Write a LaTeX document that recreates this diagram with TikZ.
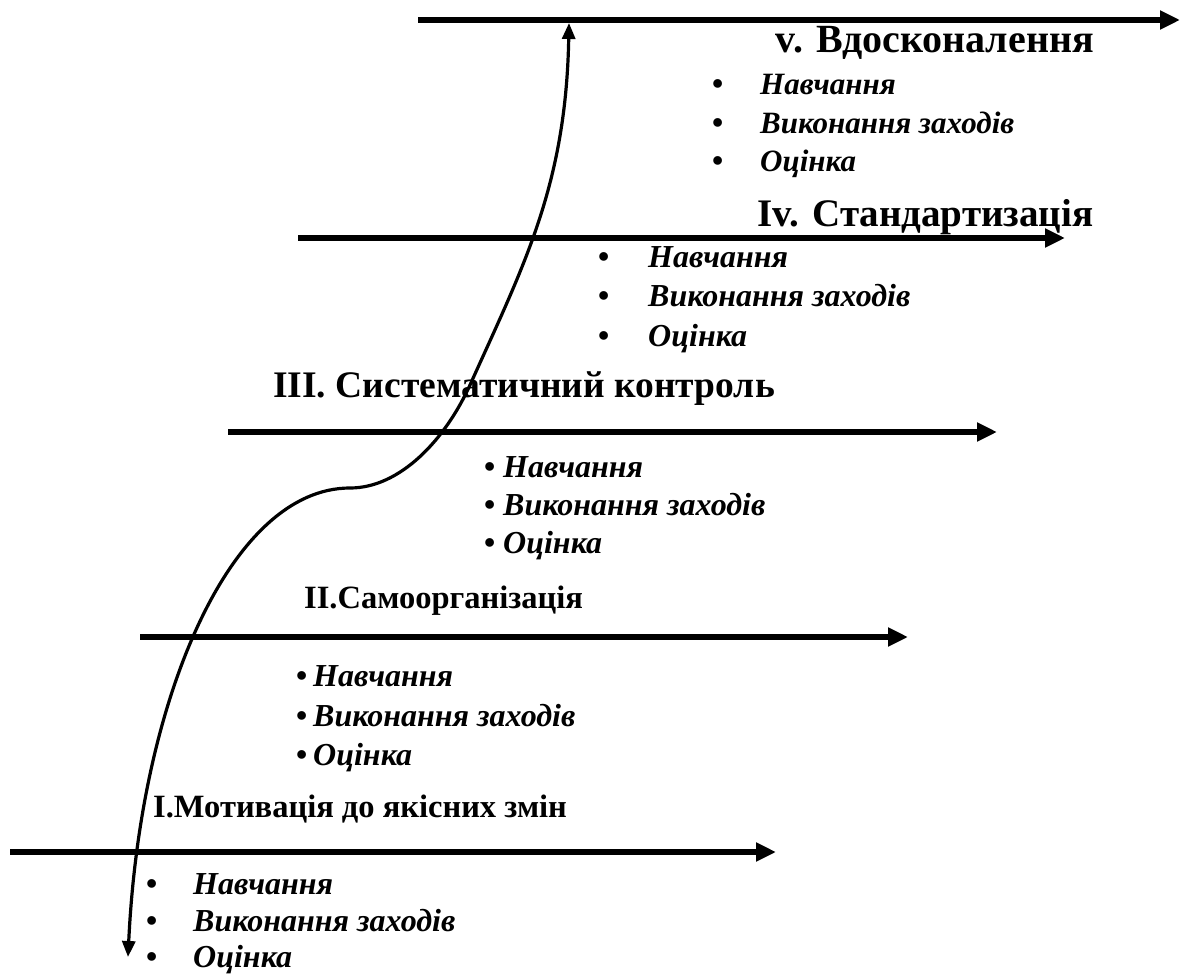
\documentclass[tikz,border=0pt]{standalone}
\usepackage{fontspec}
\setmainfont{Liberation Serif}
\usetikzlibrary{arrows.meta}
\tikzset{
  axisline/.style={line width=5.5pt, -{Triangle[length=20pt,width=18pt]}},
  pathcurve/.style={line width=3.2pt, {Triangle[length=16pt,width=13pt]}-{Triangle[length=16pt,width=13pt]}},
  bighead/.style={anchor=base west, inner sep=0pt, font=\bfseries\fontsize{38}{44}\selectfont},
  smallhead/.style={anchor=base west, inner sep=0pt, font=\bfseries\fontsize{32.5}{38}\selectfont},
  itemtext/.style={anchor=base west, inner sep=0pt, font=\bfseries\itshape\fontsize{32}{36}\selectfont},
  bulletdot/.style={anchor=base west, inner sep=0pt, font=\bfseries\fontsize{32}{36}\selectfont},
}
\begin{document}
\begin{tikzpicture}[x=1pt,y=-1pt]
\useasboundingbox (0,0) rectangle (1180,976);
% axes
\coordinate (a5s) at (418,20);  \coordinate (a5e) at (1180,20);
\coordinate (a4s) at (298,238); \coordinate (a4e) at (1065,238);
\coordinate (a3s) at (228,432); \coordinate (a3e) at (997,432);
\coordinate (a2s) at (140,637); \coordinate (a2e) at (908,637);
\coordinate (a1s) at (10,852);  \coordinate (a1e) at (776,852);
\draw[axisline] (a5s) -- (a5e);
\draw[axisline] (a4s) -- (a4e);
\draw[axisline] (a3s) -- (a3e);
\draw[axisline] (a2s) -- (a2e);
\draw[axisline] (a1s) -- (a1e);
% curve
\coordinate (cbot) at (128,957);
\coordinate (chump) at (350,488);
\coordinate (cmid) at (470,385);
\coordinate (ctop) at (569,23);
\draw[pathcurve] (cbot) .. controls (140,700) and (230,488) .. (chump)
  .. controls (400,488) and (445,440) .. (cmid)
  .. controls (524,265) and (566,185) .. (ctop);
% V
\node[bighead, font=\bfseries\fontsize{40}{46}\selectfont] (h5) at (775,53) {v. Вдосконалення};
\node[bulletdot] (b51) at (712,95) {•};  \node[itemtext, font=\bfseries\itshape\fontsize{31}{36}\selectfont] (t51) at (760,95) {Навчання};
\node[bulletdot] (b52) at (712,134) {•}; \node[itemtext, font=\bfseries\itshape\fontsize{31}{36}\selectfont] (t52) at (760,134) {Виконання заходів};
\node[bulletdot] (b53) at (712,172) {•}; \node[itemtext, font=\bfseries\itshape\fontsize{31}{36}\selectfont] (t53) at (760,172) {Оцінка};
% IV
\node[bighead, font=\bfseries\fontsize{39}{45}\selectfont] (h4) at (757,227) {Iv. Стандартизація};
\node[bulletdot] (b41) at (598,268) {•};  \node[itemtext] (t41) at (648,268) {Навчання};
\node[bulletdot] (b42) at (598,306) {•};  \node[itemtext] (t42) at (648,306) {Виконання заходів};
\node[bulletdot] (b43) at (598,346) {•};  \node[itemtext] (t43) at (648,346) {Оцінка};
% III
\node[bighead, font=\bfseries\fontsize{37.5}{44}\selectfont] (h3) at (273,397) {III. Систематичний контроль};
\node[bulletdot] (b31) at (484,477) {•};  \node[itemtext] (t31) at (503,477) {Навчання};
\node[bulletdot] (b32) at (484,515) {•};  \node[itemtext] (t32) at (503,515) {Виконання заходів};
\node[bulletdot] (b33) at (484,553) {•};  \node[itemtext] (t33) at (503,553) {Оцінка};
% II
\node[smallhead] (h2) at (304,608) {II.Самоорганізація};
\node[bulletdot] (b21) at (296,686) {•};  \node[itemtext] (t21) at (313,686) {Навчання};
\node[bulletdot] (b22) at (296,726) {•};  \node[itemtext] (t22) at (313,726) {Виконання заходів};
\node[bulletdot] (b23) at (296,765) {•};  \node[itemtext] (t23) at (313,765) {Оцінка};
% I
\node[smallhead] (h1) at (153,817) {I.Мотивація до якісних змін};
\node[bulletdot] (b11) at (146,894) {•};  \node[itemtext] (t11) at (193,894) {Навчання};
\node[bulletdot] (b12) at (146,931) {•};  \node[itemtext] (t12) at (193,931) {Виконання заходів};
\node[bulletdot] (b13) at (146,967) {•};  \node[itemtext] (t13) at (193,967) {Оцінка};
\end{tikzpicture}
\end{document}
